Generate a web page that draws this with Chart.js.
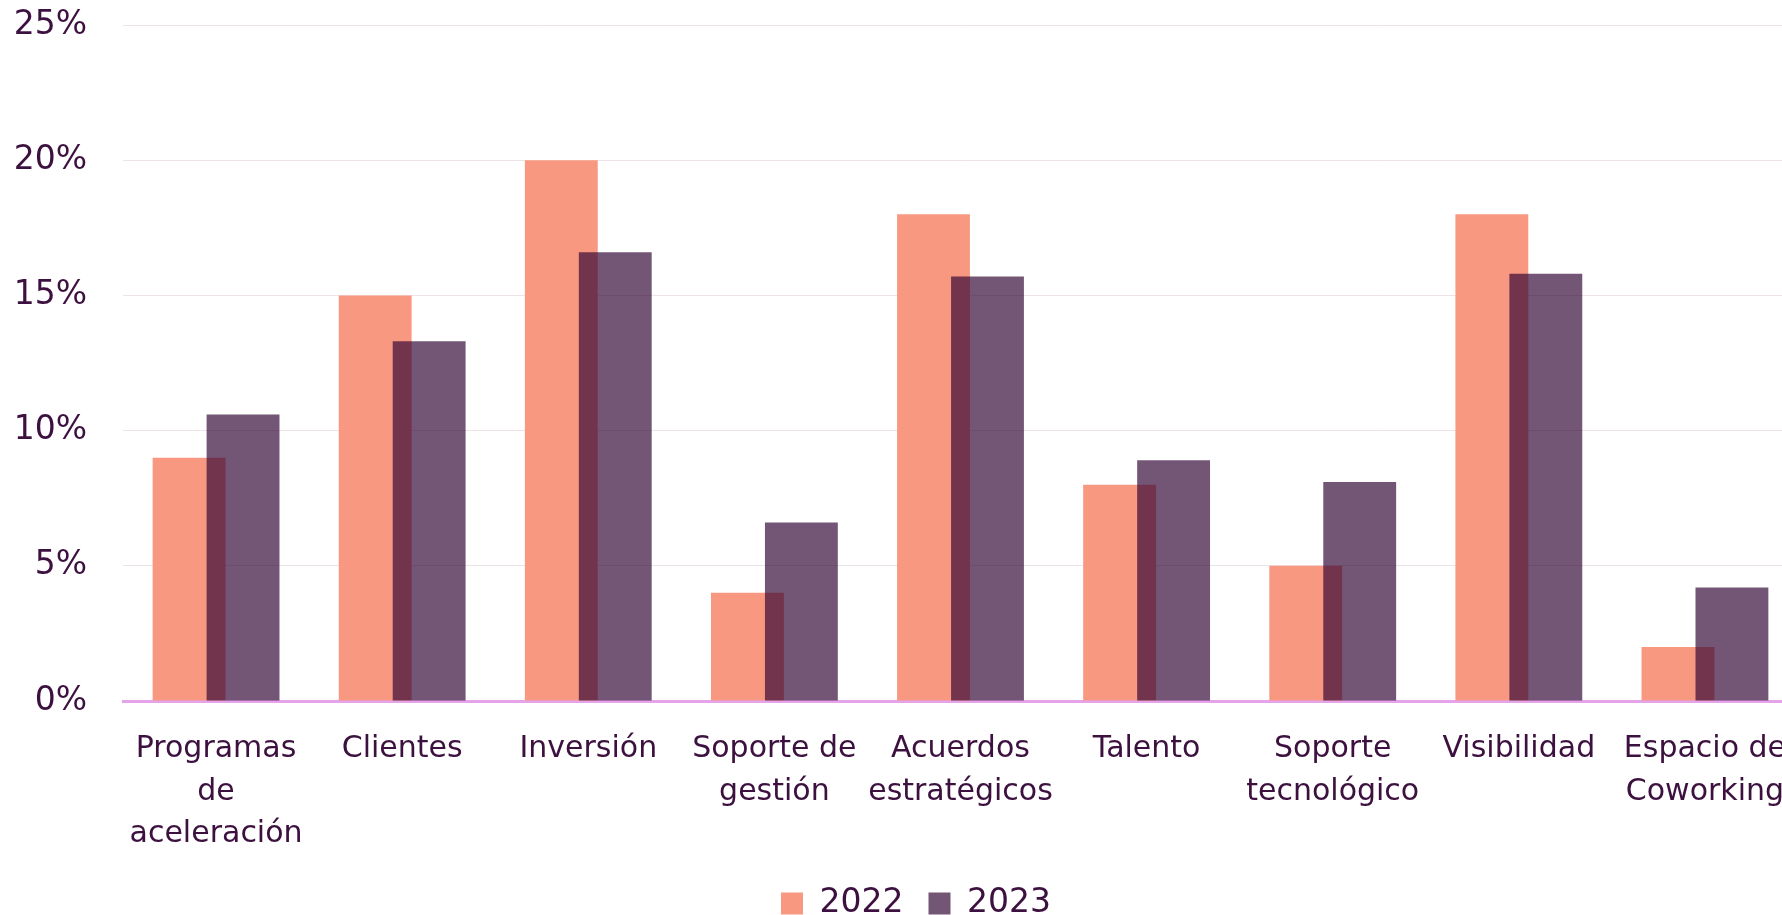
<!DOCTYPE html>
<html>
<head>
<meta charset="utf-8">
<script src="https://cdn.jsdelivr.net/npm/chart.js@4/dist/chart.umd.min.js"></script>
<style>
  html, body { margin: 0; padding: 0; background: #fff; overflow: hidden; }
</style>
</head>
<body>
<canvas id="chart" width="1834" height="930"></canvas>
<script>
var categories = [
  ["Programas", "de", "aceleración"],
  "Clientes",
  "Inversión",
  ["Soporte de", "gestión"],
  ["Acuerdos", "estratégicos"],
  "Talento",
  ["Soporte", "tecnológico"],
  "Visibilidad",
  ["Espacio de", "Coworking"]
];
var years = ["2022", "2023"];
var values2022 = [9, 15, 20, 4, 18, 8, 5, 18, 2];
var values2023 = [10.6, 13.3, 16.6, 6.6, 15.7, 8.9, 8.1, 15.8, 4.2];
var yTicks = [0, 5, 10, 15, 20, 25];

var textColor = "#3d113f";

// the 2023 bars sit on top of the 2022 ones
var drawLast = {
  id: "drawLast",
  beforeDatasetDraw: function (chart, args) {
    if (args.index === 1) return false;
  },
  afterDatasetsDraw: function (chart) {
    chart.getDatasetMeta(1).controller.draw();
  }
};

// legend is centred under the whole figure, a bit right of the canvas middle
var legendShift = {
  id: "legendShift",
  afterLayout: function (chart) {
    chart.legend.left += 17;
    chart.legend.right += 17;
  }
};

var config = {
  type: "bar",
  data: {
    labels: categories,
    datasets: [
      {
        label: years[0],
        data: values2022,
        backgroundColor: "#f99880",
        borderWidth: 0,
        categoryPercentage: 0.58,
        barPercentage: 1.35
      },
      {
        label: years[1],
        data: values2023,
        backgroundColor: "rgba(48, 4, 51, 0.68)",
        borderWidth: 0,
        categoryPercentage: 0.58,
        barPercentage: 1.35
      }
    ]
  },
  options: {
    responsive: false,
    animation: false,
    layout: {
      padding: { top: 25, right: 36, left: 0, bottom: 0 }
    },
    plugins: {
      tooltip: { enabled: false },
      legend: {
        position: "bottom",
        labels: {
          boxWidth: 22,
          boxHeight: 22,
          padding: 25,
          color: textColor,
          font: { family: "DejaVu Sans", size: 33 }
        }
      }
    },
    scales: {
      x: {
        afterFit: function (axis) { axis.height = 161; },
        grid: { display: false, drawTicks: false },
        border: { display: true, color: "#e5a3ea", width: 3 },
        ticks: {
          padding: 27,
          maxRotation: 0,
          autoSkip: false,
          color: textColor,
          font: { family: "DejaVu Sans", size: 30, lineHeight: 1.42 }
        }
      },
      y: {
        min: 0,
        max: 25,
        afterFit: function (axis) {
          axis.width = 123;
          axis.paddingTop = 0;
          axis.paddingBottom = 0;
        },
        afterBuildTicks: function (axis) {
          axis.ticks = yTicks.map(function (v) { return { value: v }; });
        },
        grid: { color: "#ebe3e8", lineWidth: 1, drawTicks: false },
        border: { display: false },
        ticks: {
          padding: 36,
          color: textColor,
          font: { family: "DejaVu Sans", size: 33 },
          callback: function (v) { return v + "%"; }
        }
      }
    }
  },
  plugins: [drawLast, legendShift]
};

window.onload = function () {
  var ctx = document.getElementById("chart").getContext("2d");
  window.myChart = new Chart(ctx, config);
};
</script>
</body>
</html>
